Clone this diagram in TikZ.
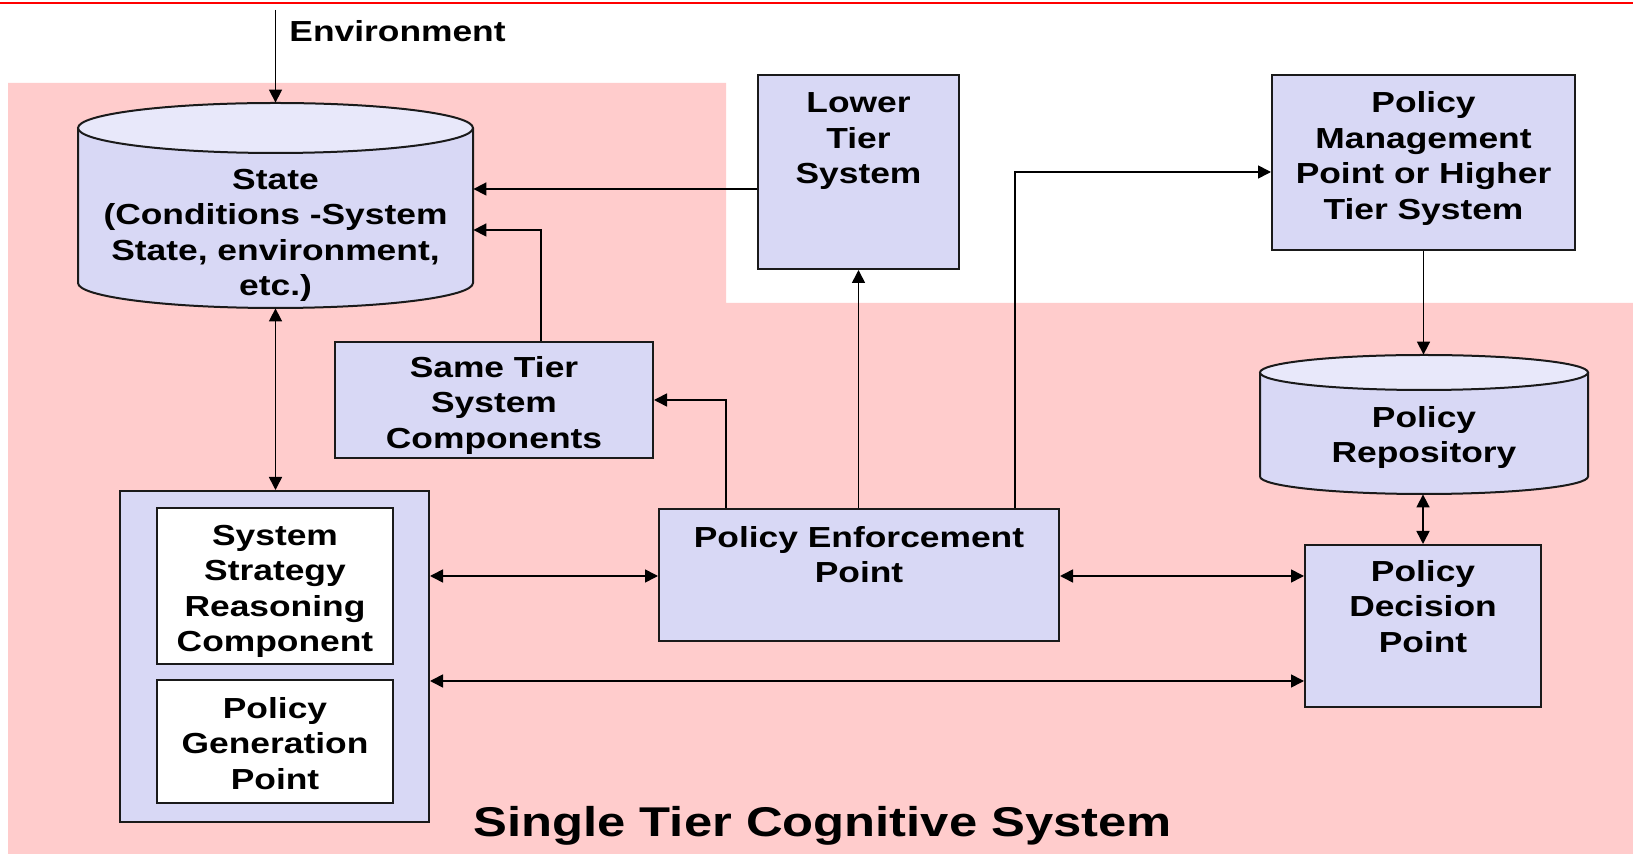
\documentclass[tikz,border=0pt]{standalone}
\usepackage{fontspec}
\setmainfont{Liberation Sans}[FakeStretch=1.22]
\usetikzlibrary{arrows.meta}
\definecolor{pinkbg}{HTML}{FFCCCC}
\definecolor{lav}{HTML}{D8D8F5}
\definecolor{lavtop}{HTML}{E8E8FA}
\definecolor{bdr}{HTML}{1A1A1A}
% centred block of lines whose baseline is the first line's baseline
\newcommand\lns[1]{\parbox[t]{240pt}{\centering #1}}
\begin{document}
\begin{tikzpicture}[x=0.5pt,y=-0.5pt,
  box/.style={draw=bdr, fill=lav, line width=1pt, inner sep=0, rectangle},
  inbox/.style={box, fill=white},
  holder/.style={inner sep=0, rectangle},
  cylline/.style={draw=bdr, line width=1pt},
  txt/.style={inner sep=0, anchor=base, font=\fontsize{14.5pt}{17.7pt}\selectfont\bfseries},
  conn/.style={line width=0.8pt, draw=black},
  arr/.style={conn, -{Triangle[length=6.5pt,width=6.5pt]}},
  darr/.style={conn, {Triangle[length=6.5pt,width=6.5pt]}-{Triangle[length=6.5pt,width=6.5pt]}}]

\useasboundingbox (0,0) rectangle (1633,854);
\fill[white] (0,0) rectangle (1633,854);
% system area
\fill[pinkbg] (8,83) -- (726,83) -- (726,303) -- (1633,303) -- (1633,854) -- (8,854) -- cycle;
\draw[red, line width=0.8pt] (0,3) -- (1633,3);

% State store
\fill[lav] (78,128) -- (78,283) arc[start angle=180,end angle=360,x radius=98.75pt,y radius=12.5pt] -- (473,128) -- cycle;
\draw[cylline] (78,128) -- (78,283) arc[start angle=180,end angle=360,x radius=98.75pt,y radius=12.5pt] -- (473,128);
\draw[cylline, fill=lavtop] (275.5,128) ellipse[x radius=98.75pt, y radius=12.5pt];
\node[holder, minimum width=197.5pt, minimum height=102.5pt] (state) at (275.5,205.5) {};

% Policy repository store
\fill[lav] (1260,372.5) -- (1260,476.5) arc[start angle=180,end angle=360,x radius=82pt,y radius=8.75pt] -- (1588,372.5) -- cycle;
\draw[cylline] (1260,372.5) -- (1260,476.5) arc[start angle=180,end angle=360,x radius=82pt,y radius=8.75pt] -- (1588,372.5);
\draw[cylline, fill=lavtop] (1424,372.5) ellipse[x radius=82pt, y radius=8.75pt];
\node[holder, minimum width=164pt, minimum height=69.5pt] (repo) at (1424,424.5) {};

% boxes
\node[box, minimum width=100.5pt, minimum height=97pt] (lower) at (858.5,172) {};
\node[box, minimum width=151.5pt, minimum height=87.5pt] (pm) at (1423.5,162.5) {};
\node[box, minimum width=159pt, minimum height=58pt] (same) at (494,400) {};
\node[box, minimum width=118pt, minimum height=81pt] (pdp) at (1423,626) {};
\node[box, minimum width=200pt, minimum height=66pt] (pep) at (859,575) {};
\node[box, minimum width=154.5pt, minimum height=165.5pt] (big) at (274.5,656.5) {};
\node[inbox, minimum width=118pt, minimum height=78pt] (ssr) at (275,586) {};
\node[inbox, minimum width=118pt, minimum height=61.5pt] (pgp) at (275,741.5) {};

% labels
\node[txt, anchor=base west] (env) at (289,41.5) {Environment};
\node[txt] (state-t) at (275.5,189.5) {\lns{State\\(Conditions -System\\State, environment,\\etc.)}};
\node[txt] (lower-t) at (858.5,113) {\lns{Lower\\Tier\\System}};
\node[txt] (pm-t) at (1423.5,113) {\lns{Policy\\Management\\Point or Higher\\Tier System}};
\node[txt] (same-t) at (494,377.5) {\lns{Same Tier\\System\\Components}};
\node[txt] (repo-t) at (1424,427.5) {\lns{Policy\\Repository}};
\node[txt] (pdp-t) at (1423,581.5) {\lns{Policy\\Decision\\Point}};
\node[txt] (pep-t) at (859,547.5) {\lns{Policy Enforcement\\Point}};
\node[txt] (ssr-t) at (275,545.5) {\lns{System\\Strategy\\Reasoning\\Component}};
\node[txt] (pgp-t) at (275,718.5) {\lns{Policy\\Generation\\Point}};
\node[inner sep=0, anchor=base west, font=\fontsize{20.8pt}{24pt}\selectfont\bfseries] (title) at (473,836) {Single Tier Cognitive System};

% connectors
\coordinate (envsrc) at (275.5,10);
\coordinate (ya) at (0,189);
\coordinate (sb) at (541,230);
\coordinate (pb) at (726,400);
\coordinate (mb) at (1015,172);
\coordinate (yb) at (0,576);
\coordinate (yc) at (0,681);
\draw[arr] (envsrc) -- (state.north);
\draw[arr] (lower.west |- ya) -- (state.east |- ya);
\draw[arr] (same.north -| sb) -- (sb) -- (state.east |- sb);
\draw[arr] (pep.north -| pb) -- (pb) -- (same.east |- pb);
\draw[arr] (pep.north -| lower.south) -- (lower.south);
\draw[arr] (pep.north -| mb) -- (mb) -- (pm.west |- mb);
\draw[arr] (pm.south) -- (pm.south |- repo.north);
\draw[darr] (repo.south -| pdp.north) -- (pdp.north);
\draw[darr] (state.south) -- (state.south |- big.north);
\draw[darr] (big.east |- yb) -- (pep.west |- yb);
\draw[darr] (pep.east |- yb) -- (pdp.west |- yb);
\draw[darr] (big.east |- yc) -- (pdp.west |- yc);
\end{tikzpicture}
\end{document}
